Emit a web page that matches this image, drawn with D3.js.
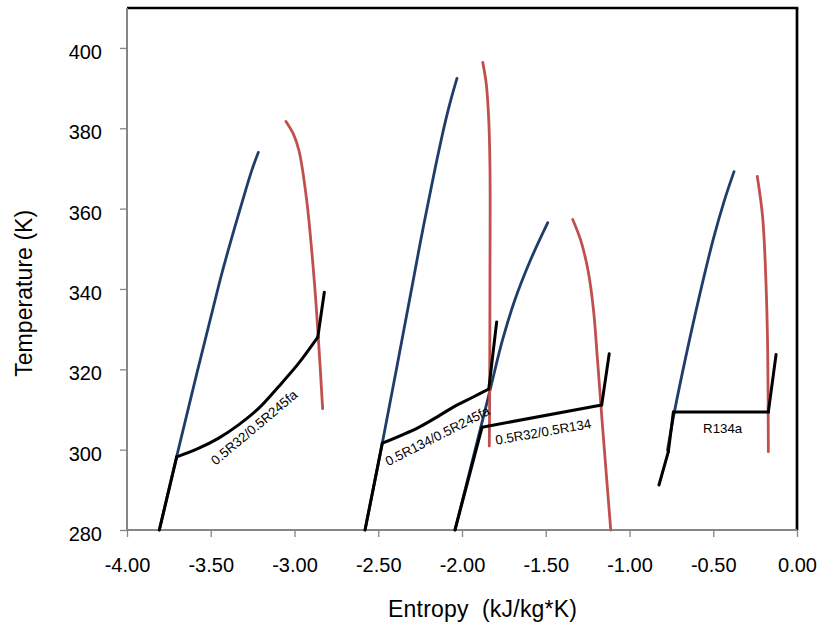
<!DOCTYPE html>
<html>
<head>
<meta charset="utf-8">
<script src="https://cdn.jsdelivr.net/npm/d3@7/dist/d3.min.js"></script>
<style>
  html, body { margin: 0; padding: 0; background: #fff; }
  svg { display: block; font-family: "Liberation Sans", Arial, sans-serif; }
</style>
</head>
<body>
<svg id="chart" width="821" height="626"></svg>
<script>
// ---- Data (entropy kJ/kg*K, temperature K) ----
const xTicks = [-4.0, -3.5, -3.0, -2.5, -2.0, -1.5, -1.0, -0.5, 0.0];
const yTicks = [280, 300, 320, 340, 360, 380, 400];

// 0.5R32/0.5R245fa
const liquid1 = [[-3.807,280],[-3.703,298.4],[-3.445,342.1],[-3.379,352.1],[-3.310,362.0],[-3.256,369.4],[-3.216,374.0]];
const vapor1  = [[-3.051,381.7],[-3.007,378.6],[-2.973,374.4],[-2.927,362.0],[-2.882,342.1],[-2.858,328.0],[-2.832,310.2]];
const cycle1  = [[-3.807,280],[-3.703,298.2],[-3.574,300.3],[-3.455,302.8],[-3.336,306.1],[-3.216,310.2],[-3.097,315.6],[-2.977,321.4],[-2.861,328.0],[-2.822,339.2]];
const kinks1  = [1, 8];

// 0.5R134/0.5R245fa
const liquid2 = [[-2.579,280],[-2.476,301.6],[-2.291,342.2],[-2.246,352.2],[-2.199,362.1],[-2.150,372.1],[-2.097,382.1],[-2.067,387.0],[-2.030,392.4]];
const vapor2  = [[-1.876,396.4],[-1.855,391.0],[-1.841,382.7],[-1.833,370.3],[-1.833,342.1],[-1.835,312.3],[-1.837,300.9]];
const cycle2  = [[-2.579,280],[-2.476,301.6],[-2.261,305.5],[-2.131,308.6],[-2.052,310.6],[-1.933,313.1],[-1.840,315.1],[-1.793,331.8]];
const kinks2  = [1, 6];

// 0.5R32/0.5R134
const liquid3 = [[-2.042,280],[-1.842,313.2],[-1.758,327.3],[-1.684,337.3],[-1.591,347.2],[-1.488,356.5]];
const vapor3  = [[-1.339,357.3],[-1.292,352.2],[-1.248,344.7],[-1.215,334.8],[-1.191,322.3],[-1.164,307.4],[-1.112,280]];
const cycle3  = [[-2.042,280],[-1.880,305.6],[-1.166,311.1],[-1.121,323.9]];
const kinks3  = [1, 2];

// R134a
const liquid4 = [[-0.773,299.9],[-0.732,309.4],[-0.664,323.1],[-0.588,337.3],[-0.501,352.2],[-0.433,362.1],[-0.376,369.2]];
const vapor4  = [[-0.237,368.0],[-0.205,357.8],[-0.185,341.3],[-0.175,324.7],[-0.171,299.5]];
const cycle4  = [[-0.824,291.2],[-0.768,299.5],[-0.738,309.4],[-0.171,309.4],[-0.125,323.7]];
const kinks4  = [1, 2, 3];

const labelTexts  = ["0.5R32/0.5R245fa", "0.5R134/0.5R245fa", "0.5R32/0.5R134", "R134a"];
const labelS      = [-3.240, -2.146, -1.515, -0.444];
const labelT      = [305.5, 303.4, 304.4, 305.3];
const labelAngles = [-40, -27, -10, 0];

// ---- Layout ----
const svg = d3.select("#chart");
const L = 127, R = 797, T = 7.75, B = 530;
const x = d3.scaleLinear().domain([-4, 0]).range([L, R]);
const y = d3.scaleLinear().domain([280, 410]).range([B, T]);

const blue = "#1f3d6b", red = "#c0504d", axisGray = "#868686";

// frame: top and right black
svg.append("line").attr("x1", L).attr("x2", R + 1.3).attr("y1", 8).attr("y2", 8)
  .attr("stroke", "#000").attr("stroke-width", 2.7);
svg.append("line").attr("x1", R).attr("x2", R).attr("y1", 8).attr("y2", B)
  .attr("stroke", "#000").attr("stroke-width", 2.7);

// axes
const yAxis = d3.axisLeft(y).tickValues(yTicks).tickSize(7).tickPadding(18).tickFormat(d3.format("d"));
const gy = svg.append("g").attr("transform", `translate(${L},0)`).call(yAxis);
gy.select(".domain").attr("stroke", axisGray).attr("stroke-width", 2).attr("d", `M0,${8}V${B}`);
gy.selectAll(".tick line").attr("stroke", axisGray).attr("stroke-width", 1.3);
gy.selectAll(".tick text").attr("font-size", 20).attr("fill", "#000").attr("dy", "0.53em")
  .attr("font-family", "Liberation Sans, Arial, sans-serif");

const xAxis = d3.axisBottom(x).tickValues(xTicks).tickSize(7).tickPadding(21).tickFormat(d3.format(".2f"));
const gx = svg.append("g").attr("transform", `translate(0,${B})`).call(xAxis);
gx.select(".domain").attr("stroke", axisGray).attr("stroke-width", 2).attr("d", `M${L},0H${R}`);
gx.selectAll(".tick line").attr("stroke", axisGray).attr("stroke-width", 1.3);
gx.selectAll(".tick text").attr("font-size", 20).attr("fill", "#000")
  .attr("font-family", "Liberation Sans, Arial, sans-serif")
  .text(d => d3.format(".2f")(d).replace("−", "-"));

// titles
svg.append("text").attr("x", 482.5).attr("y", 616.5).attr("text-anchor", "middle")
  .attr("font-size", 23).attr("textLength", 189).attr("lengthAdjust", "spacing")
  .attr("xml:space", "preserve").style("white-space", "pre")
  .text("Entropy  (kJ/kg*K)");
svg.append("text").attr("transform", "translate(31.5,293.3) rotate(-90)").attr("text-anchor", "middle")
  .attr("font-size", 23).attr("textLength", 167).attr("lengthAdjust", "spacing")
  .text("Temperature (K)");

// curves
const smooth = d3.line().x(d => x(d[0])).y(d => y(d[1])).curve(d3.curveCatmullRom.alpha(0.5));

const plot = svg.append("g");
[liquid1, liquid2, liquid3, liquid4].forEach(d => {
  plot.append("path").attr("d", smooth(d)).attr("fill", "none").attr("stroke", blue)
    .attr("stroke-width", 2.8).attr("stroke-linecap", "round");
});
[vapor1, vapor2, vapor3, vapor4].forEach(d => {
  plot.append("path").attr("d", smooth(d)).attr("fill", "none").attr("stroke", red)
    .attr("stroke-width", 2.8).attr("stroke-linecap", "round");
});
// black cycle lines: split at the kinks, each piece drawn smooth
[[cycle1, kinks1], [cycle2, kinks2], [cycle3, kinks3], [cycle4, kinks4]].forEach(([d, k]) => {
  const cuts = [0, ...k, d.length - 1];
  for (let i = 0; i < cuts.length - 1; i++) {
    const seg = d.slice(cuts[i], cuts[i + 1] + 1);
    plot.append("path").attr("d", smooth(seg)).attr("fill", "none").attr("stroke", "#000")
      .attr("stroke-width", 3).attr("stroke-linejoin", "round").attr("stroke-linecap", "round");
  }
});

// labels
labelTexts.forEach((t, i) => {
  svg.append("text")
    .attr("transform", `translate(${x(labelS[i])},${y(labelT[i])}) rotate(${labelAngles[i]})`)
    .attr("text-anchor", "middle").attr("dominant-baseline", "central")
    .attr("font-size", 13.3).attr("fill", "#000").text(t);
});
</script>
</body>
</html>
